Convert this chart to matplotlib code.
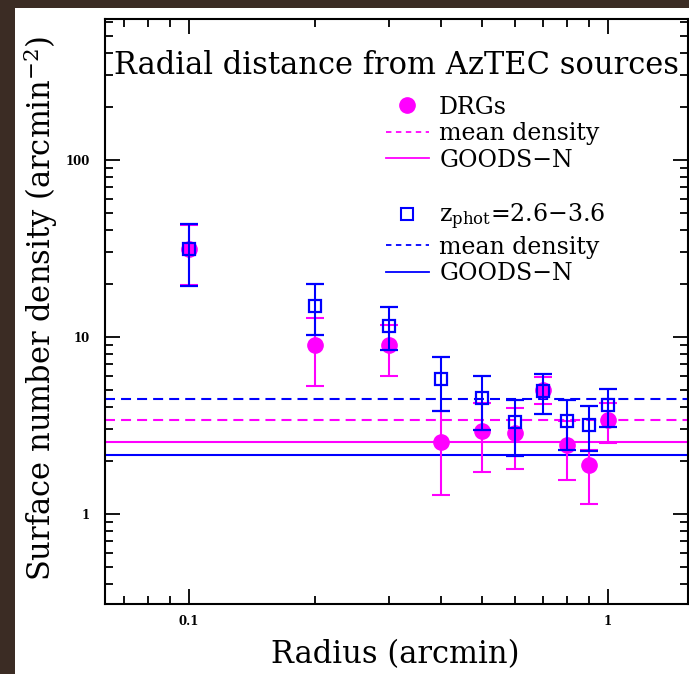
import matplotlib
matplotlib.use("Agg")
import matplotlib.pyplot as plt
from matplotlib.lines import Line2D
from matplotlib.patches import Rectangle
from matplotlib.ticker import FixedLocator, NullFormatter, LogLocator

# ---- data ----
radius = [0.1, 0.2, 0.3, 0.4, 0.5, 0.6, 0.7, 0.8, 0.9, 1.0]

drg_density = [31.4, 9.06, 9.06, 2.55, 2.96, 2.86, 5.03, 2.45, 1.88, 3.41]
drg_err_hi = [43.0, 12.8, 11.7, 3.84, 4.26, 3.96, 5.9, 3.37, 2.30, 4.24]
drg_err_lo = [19.6, 5.25, 6.05, 1.28, 1.73, 1.79, 4.2, 1.56, 1.14, 2.52]

zph_density = [31.4, 14.9, 11.6, 5.82, 4.53, 3.29, 4.96, 3.35, 3.19, 4.14]
zph_err_hi = [43.3, 19.9, 14.7, 7.75, 6.03, 4.42, 6.19, 4.42, 4.08, 5.08]
zph_err_lo = [19.4, 10.2, 8.46, 3.84, 2.99, 2.13, 3.68, 2.31, 2.28, 3.10]

drg_mean = 3.38
drg_goods = 2.55
zph_mean = 4.46
zph_goods = 2.16

title = "Radial distance from AzTEC sources"
xlabel = "Radius (arcmin)"
ylabel = "Surface number density (arcmin$^{-2}$)"
labels = ["DRGs", "mean density", "GOODS\u2212N", " ",
          "z$_{\\rm phot}$=2.6\u22123.6", "mean density", "GOODS\u2212N"]

MAG = "#ff00ff"
BLU = "#0000ff"

plt.rcParams["font.family"] = ["DejaVu Serif"]
plt.rcParams["mathtext.fontset"] = "dejavuserif"

fig = plt.figure(figsize=(6.89, 6.74), dpi=100, facecolor="#3b2c24")
fig.patches.append(Rectangle((15 / 689, 0), 1, 1 - 8 / 674, transform=fig.transFigure,
                             facecolor="white", edgecolor="none", zorder=-10))

ax = fig.add_axes([105 / 689, 1 - 604 / 674, 583 / 689, 585 / 674])
ax.set_facecolor("white")
ax.set_xscale("log")
ax.set_yscale("log")
ax.set_xlim(0.063, 1.552)
ax.set_ylim(0.31, 625)

# error bars
def asym(v, hi, lo):
    return [[a - b for a, b in zip(v, lo)], [b - a for a, b in zip(v, hi)]]

ax.errorbar(radius, drg_density, yerr=asym(drg_density, drg_err_hi, drg_err_lo),
            fmt="o", color=MAG, ms=11, elinewidth=1.5, capsize=6.5, capthick=1.5, zorder=3)
ax.errorbar(radius, zph_density, yerr=asym(zph_density, zph_err_hi, zph_err_lo),
            fmt="s", color=BLU, mfc="none", mec=BLU, ms=9, mew=1.6,
            elinewidth=1.5, capsize=6.5, capthick=1.5, zorder=4)

dash = (0, (4.8, 2.9))
ax.axhline(drg_mean, color=MAG, ls=dash, lw=1.5, zorder=2)
ax.axhline(drg_goods, color=MAG, ls="-", lw=1.5, zorder=2)
ax.axhline(zph_mean, color=BLU, ls=dash, lw=1.5, zorder=2)
ax.axhline(zph_goods, color=BLU, ls="-", lw=1.5, zorder=2)

# ticks
for s in ax.spines.values():
    s.set_linewidth(1.5)
ax.tick_params(which="both", direction="in", top=True, right=True, width=1.3)
ax.tick_params(which="major", length=11)
ax.tick_params(which="minor", length=6)
ax.yaxis.set_major_locator(FixedLocator([1, 10, 100]))
ax.yaxis.set_minor_locator(LogLocator(base=10, subs=range(2, 10), numticks=20))
ax.xaxis.set_major_locator(FixedLocator([0.1, 1]))
ax.xaxis.set_minor_locator(LogLocator(base=10, subs=range(2, 10), numticks=20))
ax.yaxis.set_minor_formatter(NullFormatter())
ax.xaxis.set_minor_formatter(NullFormatter())
ax.set_yticklabels(["1", "10", "100"], fontweight="bold", fontsize=8.5)
ax.set_xticklabels(["0.1", "1"], fontweight="bold", fontsize=8.5)
ax.tick_params(axis="y", pad=11)
ax.tick_params(axis="x", pad=8)

ax.set_xlabel(xlabel, fontsize=22)
ax.xaxis.set_label_coords(0.497, -0.060)
ax.set_ylabel(ylabel, fontsize=22)
ax.yaxis.set_label_coords(-0.077, 0.505)

ax.text(0.5, 0.92, title, transform=ax.transAxes, ha="center", va="center", fontsize=22)

handles = [
    Line2D([], [], marker="o", ls="none", color=MAG, ms=11),
    Line2D([], [], color=MAG, ls=(0, (3, 2.5)), lw=1.3),
    Line2D([], [], color=MAG, ls="-", lw=1.3),
    Line2D([], [], ls="none"),
    Line2D([], [], marker="s", ls="none", mfc="none", mec=BLU, ms=8, mew=1.5),
    Line2D([], [], color=BLU, ls=(0, (3, 2.5)), lw=1.3),
    Line2D([], [], color=BLU, ls="-", lw=1.3),
]
ax.legend(handles, labels, loc="upper left", bbox_to_anchor=(0.482, 0.869),
          frameon=False, fontsize=17, handlelength=1.8, handletextpad=0.45,
          labelspacing=0.15, borderpad=0, borderaxespad=0)

fig.savefig("out.png", dpi=100, facecolor=fig.get_facecolor())
